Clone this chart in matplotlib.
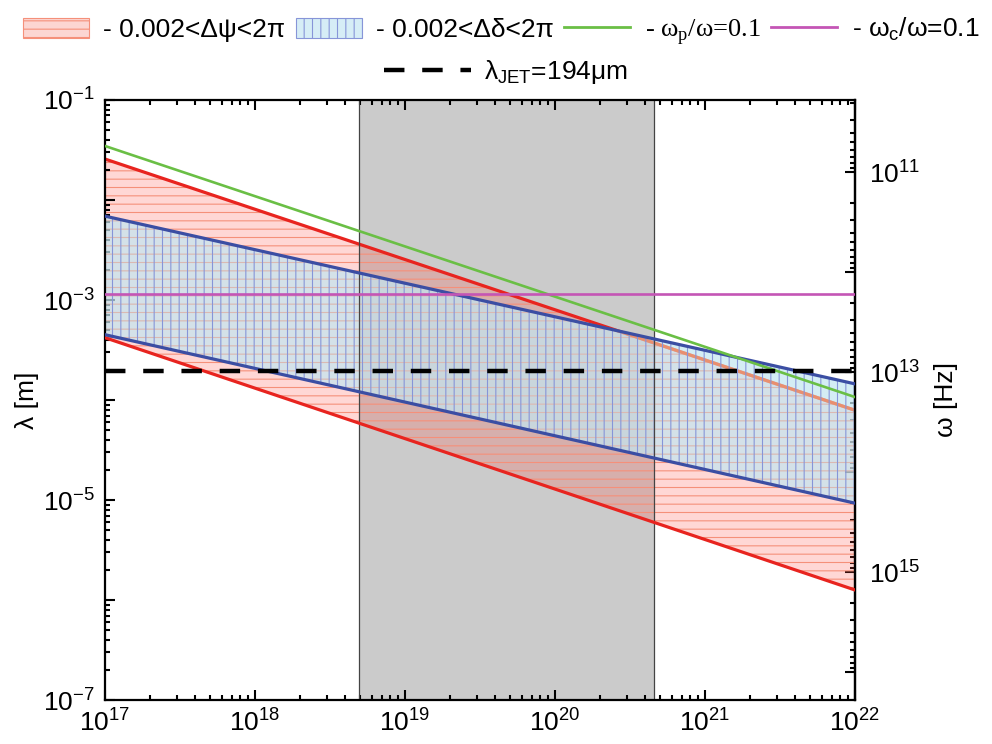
import numpy as np
import matplotlib
matplotlib.use("Agg")
import matplotlib.pyplot as plt
from matplotlib.ticker import LogLocator, NullFormatter
from matplotlib.lines import Line2D
from matplotlib.patches import Patch

plt.rcParams['font.family'] = ['Liberation Sans', 'DejaVu Sans']
plt.rcParams['mathtext.fontset'] = 'custom'
plt.rcParams['mathtext.rm'] = 'Liberation Sans'
plt.rcParams['mathtext.it'] = 'Liberation Sans:italic'
plt.rcParams['hatch.linewidth'] = 0.8

# density axis endpoints [m^-3] and wavelength values [m]
density = [1e17, 1e22]
psi_upper = [2.57e-2, 7.9e-5]      # red band, upper edge
psi_lower = [4.2e-4, 1.26e-6]      # red band, lower edge
delta_upper = [6.9e-3, 1.45e-4]    # blue band, upper edge
delta_lower = [4.5e-4, 9.3e-6]     # blue band, lower edge
omega_p_line = [3.47e-2, 1.07e-4]  # w_p/w = 0.1
omega_c_line = [1.15e-3, 1.15e-3]  # w_c/w = 0.1
lambda_jet = 1.94e-4
shade = [4.9e18, 4.6e20]

y_ticks = [1e-7, 1e-6, 1e-5, 1e-4, 1e-3, 1e-2, 1e-1]
y_tick_labels = ['$10^{-7}$', '', '$10^{-5}$', '', '$10^{-3}$', '', '$10^{-1}$']
w_ticks = [1e11, 1e12, 1e13, 1e14, 1e15, 1e16]
w_tick_labels = ['$10^{11}$', '', '$10^{13}$', '', '$10^{15}$', '']

c_light = 3e8
FS = 19


def lam2omega(lam):
    lam = np.asarray(lam, dtype=float)
    with np.errstate(divide='ignore'):
        return np.where(lam > 0, 2 * np.pi * c_light / np.where(lam > 0, lam, 1), np.inf)


fig = plt.figure(figsize=(9.92, 7.44), dpi=100)
ax = fig.add_axes([0.1058, 0.0591, 0.7561, 0.8065])
ax.set_xscale('log')
ax.set_yscale('log')

ax.axvspan(shade[0], shade[1], facecolor='#cbcbcb', edgecolor='none', zorder=0)
for xv in shade:
    ax.axvline(xv, color='#444444', lw=0.9, zorder=2.5)

# red band
ax.fill_between(density, psi_lower, psi_upper, facecolor=(1.0, 0.3, 0.25, 0.22),
                edgecolor='none', zorder=1)
ax.fill_between(density, psi_lower, psi_upper, facecolor='none', edgecolor='#f5907a',
                hatch='--', linewidth=0, zorder=1.1)
ax.plot(density, psi_upper, color='#e8241f', lw=2.3, zorder=1.2)
ax.plot(density, psi_lower, color='#e8241f', lw=2.3, zorder=3)

# blue band
blue = ax.fill_between(density, delta_lower, delta_upper, facecolor=(0.77, 0.90, 0.943, 0.72),
                       edgecolor='none', zorder=2)
blue_path = blue.get_paths()[0]
red_again = ax.fill_between(density, psi_lower, psi_upper, facecolor='none',
                            edgecolor=(0.96, 0.55, 0.45, 0.3), hatch='--',
                            linewidth=0, zorder=2.02)
red_again.set_clip_path(blue_path, ax.transData)
salmon, = ax.plot(density, psi_upper, color='#e98f6f', lw=2.3, zorder=2.05)
salmon.set_clip_path(blue_path, ax.transData)
ax.fill_between(density, delta_lower, delta_upper, facecolor='none', edgecolor='#8795d8',
                hatch='||', linewidth=0, zorder=2.1)
ax.plot(density, delta_upper, color='#3b4ea3', lw=2.3, zorder=3)
ax.plot(density, delta_lower, color='#3b4ea3', lw=2.3, zorder=3)

ax.plot(density, omega_p_line, color='#6abf45', lw=1.9, zorder=3.5)
ax.plot(density, omega_c_line, color='#c455b5', lw=1.9, zorder=3.5)
ax.axhline(lambda_jet, color='black', lw=3.2, ls=(0, (4.6, 4.0)), zorder=4)

ax.set_xlim(1e17, 1e22)
ax.set_ylim(1e-7, 1e-1)

ax.xaxis.set_major_locator(LogLocator(base=10, numticks=20))
ax.xaxis.set_minor_locator(LogLocator(base=10, subs=np.arange(2, 10), numticks=50))
ax.xaxis.set_minor_formatter(NullFormatter())
ax.set_yticks(y_ticks, y_tick_labels)
ax.yaxis.set_minor_locator(LogLocator(base=10, subs=np.arange(2, 10), numticks=50))
ax.yaxis.set_minor_formatter(NullFormatter())

ax.tick_params(which='both', direction='in', top=True, right=False, width=1.5,
               labelsize=FS)
ax.tick_params(which='major', length=7.5, pad=7)
ax.tick_params(which='minor', length=3.8)
for sp in ax.spines.values():
    sp.set_linewidth(1.6)

sec = ax.secondary_yaxis('right', functions=(lam2omega, lam2omega))
sec.set_yticks(w_ticks, w_tick_labels)
sec.yaxis.set_minor_locator(LogLocator(base=10, subs=np.arange(2, 10), numticks=50))
sec.yaxis.set_minor_formatter(NullFormatter())
sec.tick_params(which='both', direction='in', width=1.5, labelsize=FS)
sec.tick_params(which='major', length=7.5, pad=10)
sec.tick_params(which='minor', length=3.8)
sec.spines['right'].set_linewidth(1.6)

fig.text(0.027, 0.4624, 'λ [m]', rotation=90, ha='center', va='center', fontsize=FS)
fig.text(0.954, 0.4624, 'ω [Hz]', rotation=90, ha='center', va='center', fontsize=FS)

handles = [
    Patch(facecolor='#fcd6d2', edgecolor='#f5907a', hatch='--', linewidth=0.8),
    Patch(facecolor='#d6edf6', edgecolor='#8795d8', hatch='||', linewidth=0.8),
    Line2D([], [], color='#6abf45', lw=2),
    Line2D([], [], color='#c455b5', lw=2),
]
labels = ['- 0.002<Δψ<2π', '- 0.002<Δδ<2π',
          '- ω$_\\mathregular{p}$/ω=0.1', '- ω$_\\mathregular{c}$/ω=0.1']
leg = fig.legend(handles, labels, loc='upper center', bbox_to_anchor=(0.505, 1.0),
                 ncol=4, frameon=False, fontsize=FS, handlelength=2.5,
                 handleheight=0.8, handletextpad=0.55, columnspacing=0.4,
                 borderaxespad=0.2)
leg.get_texts()[2].set_family('Liberation Serif')

leg2 = fig.legend([Line2D([], [], color='black', lw=3.2, ls=(0, (4.6, 4.0)))],
                  ['λ$_\\mathregular{JET}$=194μm'], loc='center',
                  bbox_to_anchor=(0.51, 0.903), frameon=False, fontsize=FS,
                  handlelength=3.3, handletextpad=0.5)

fig.savefig('out.png', dpi=100)
